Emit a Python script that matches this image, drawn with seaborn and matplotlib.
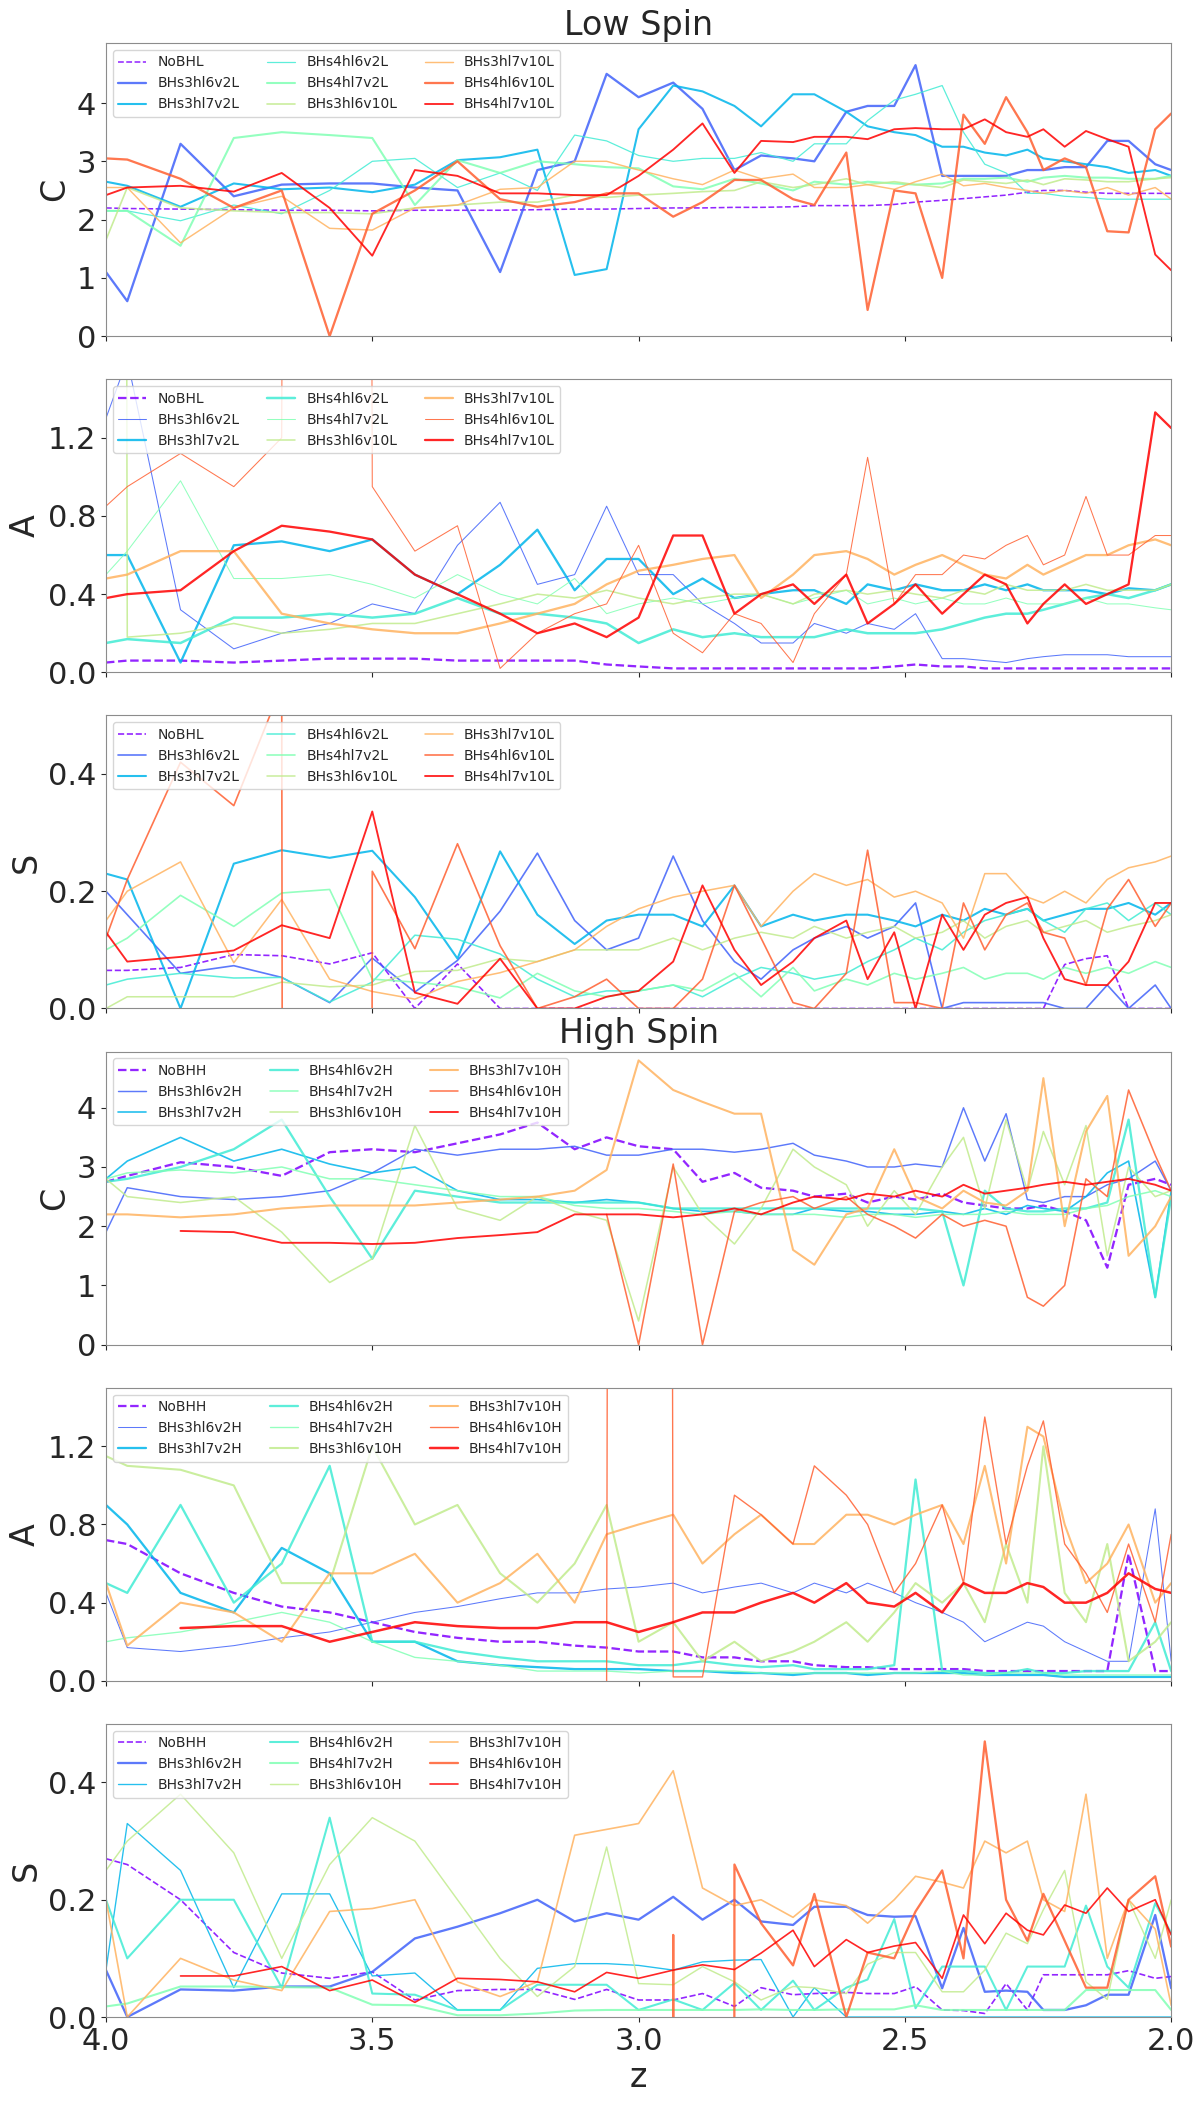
import numpy as np
import pandas as pd
import matplotlib
matplotlib.use("Agg")
import matplotlib.pyplot as plt
import seaborn as sns

nan = np.nan

# redshift grid (x values)
z = [4.00, 3.96, 3.86, 3.76, 3.67, 3.58, 3.50, 3.42, 3.34, 3.26, 3.19, 3.12,
     3.06, 3.00, 2.935, 2.88, 2.82, 2.77, 2.71, 2.67, 2.61, 2.57, 2.52, 2.48,
     2.43, 2.39, 2.35, 2.31, 2.27, 2.24, 2.20, 2.16, 2.12, 2.08, 2.03, 2.00]

names_low = ["NoBHL", "BHs3hl6v2L", "BHs3hl7v2L", "BHs4hl6v2L", "BHs4hl7v2L",
             "BHs3hl6v10L", "BHs3hl7v10L", "BHs4hl6v10L", "BHs4hl7v10L"]
names_high = ["NoBHH", "BHs3hl6v2H", "BHs3hl7v2H", "BHs4hl6v2H", "BHs4hl7v2H",
              "BHs3hl6v10H", "BHs3hl7v10H", "BHs4hl6v10H", "BHs4hl7v10H"]

# ---------------- Low spin : C ----------------
C_low_NoBH = [2.20,2.19,2.18,2.17,2.16,2.16,2.15,2.16,2.16,2.16,2.17,2.18,
              2.18,2.19,2.20,2.20,2.21,2.21,2.22,2.24,2.24,2.24,2.26,2.30,
              2.33,2.36,2.39,2.42,2.47,2.50,2.50,2.47,2.45,2.45,2.45,2.45]
C_low_3hl6v2 = [1.1,0.6,3.3,2.4,2.6,2.62,2.62,2.55,2.5,1.1,2.85,3.0,
                4.5,4.1,4.35,3.9,2.85,3.1,3.05,3.0,3.85,3.95,3.95,4.65,
                2.75,2.75,2.75,2.75,2.85,2.85,2.9,2.9,3.35,3.35,2.95,2.85]
C_low_3hl7v2 = [2.65,2.58,2.22,2.62,2.52,2.55,2.47,2.6,3.02,3.07,3.2,1.05,
                1.15,3.55,4.3,4.2,3.95,3.6,4.15,4.15,3.85,3.6,3.5,3.45,
                3.25,3.25,3.15,3.1,3.2,3.05,3.0,2.95,2.9,2.8,2.85,2.75]
C_low_4hl6v2 = [2.15,2.15,1.98,2.25,2.1,2.5,3.0,3.05,2.55,2.8,2.5,3.45,
                3.35,3.1,3.0,3.05,3.05,3.15,3.0,3.3,3.3,3.7,4.05,4.15,
                4.3,3.5,2.95,2.8,2.45,2.45,2.4,2.38,2.35,2.35,2.35,2.35]
C_low_4hl7v2 = [2.15,2.15,1.55,3.4,3.5,3.45,3.4,2.25,3.02,2.8,3.0,2.95,
                2.9,2.88,2.57,2.52,2.7,2.62,2.5,2.65,2.6,2.65,2.62,2.6,
                2.62,2.7,2.7,2.72,2.65,2.72,2.75,2.72,2.72,2.7,2.7,2.75]
C_low_3hl6v10 = [1.65,2.55,2.2,2.15,2.12,2.12,2.1,2.2,2.25,2.3,2.3,2.42,
                 2.38,2.42,2.45,2.48,2.5,2.65,2.55,2.6,2.7,2.6,2.65,2.6,
                 2.55,2.68,2.65,2.62,2.68,2.6,2.7,2.68,2.65,2.65,2.7,2.72]
C_low_3hl7v10 = [2.55,2.55,1.6,2.2,2.4,1.85,1.82,2.2,2.25,2.52,2.55,3.0,
                 3.0,2.85,2.7,2.6,2.85,2.7,2.78,2.55,2.55,2.6,2.52,2.65,
                 2.78,2.58,2.62,2.55,2.5,2.45,2.5,2.45,2.55,2.42,2.55,2.35]
C_low_4hl6v10 = [3.05,3.03,2.7,2.2,2.5,0.0,2.1,2.5,3.0,2.35,2.22,2.3,
                 2.45,2.45,2.05,2.3,2.68,2.68,2.35,2.25,3.15,0.45,2.5,2.45,
                 1.0,3.8,3.3,4.1,3.5,2.85,3.05,2.9,1.8,1.78,3.55,3.82]
C_low_4hl7v10 = [2.42,2.55,2.58,2.48,2.8,2.2,1.38,2.85,2.75,2.45,2.45,2.42,
                 2.42,2.75,3.2,3.65,2.8,3.35,3.33,3.42,3.42,3.38,3.55,3.57,
                 3.55,3.55,3.72,3.5,3.42,3.55,3.25,3.52,3.38,3.25,1.4,1.13]

# ---------------- Low spin : A ----------------
A_low_NoBH = [0.05,0.06,0.06,0.05,0.06,0.07,0.07,0.07,0.06,0.06,0.06,0.06,
              0.04,0.03,0.02,0.02,0.02,0.02,0.02,0.02,0.02,0.02,0.03,0.04,
              0.03,0.03,0.02,0.02,0.02,0.02,0.02,0.02,0.02,0.02,0.02,0.02]
A_low_3hl6v2 = [1.3,1.6,0.32,0.12,0.2,0.25,0.35,0.3,0.65,0.87,0.45,0.5,
                0.85,0.5,0.5,0.35,0.25,0.15,0.15,0.25,0.2,0.25,0.22,0.3,
                0.07,0.07,0.06,0.05,0.07,0.08,0.09,0.09,0.09,0.08,0.08,0.08]
A_low_3hl7v2 = [0.6,0.6,0.05,0.65,0.67,0.62,0.68,0.5,0.4,0.55,0.73,0.42,
                0.58,0.58,0.4,0.48,0.38,0.4,0.42,0.42,0.35,0.45,0.42,0.45,
                0.42,0.42,0.45,0.42,0.45,0.42,0.42,0.42,0.4,0.43,0.42,0.45]
A_low_4hl6v2 = [0.15,0.17,0.15,0.28,0.28,0.3,0.28,0.3,0.38,0.3,0.3,0.28,
                0.25,0.15,0.22,0.18,0.2,0.18,0.18,0.18,0.22,0.2,0.2,0.2,
                0.22,0.25,0.28,0.3,0.3,0.32,0.35,0.38,0.4,0.38,0.42,0.45]
A_low_4hl7v2 = [0.5,0.62,0.98,0.48,0.48,0.5,0.45,0.38,0.5,0.4,0.35,0.48,
                0.3,0.35,0.38,0.35,0.38,0.4,0.35,0.38,0.42,0.35,0.38,0.35,
                0.38,0.35,0.35,0.38,0.35,0.35,0.35,0.38,0.35,0.35,0.33,0.32]
A_low_3hl6v10 = [60.0,0.18,0.2,0.25,0.2,0.22,0.25,0.25,0.3,0.35,0.4,0.38,
                 0.42,0.38,0.35,0.38,0.4,0.4,0.35,0.4,0.42,0.4,0.42,0.4,
                 0.38,0.42,0.4,0.45,0.42,0.42,0.42,0.45,0.42,0.42,0.42,0.45]
A_low_3hl7v10 = [0.48,0.5,0.62,0.62,0.3,0.25,0.22,0.2,0.2,0.25,0.3,0.35,
                 0.45,0.52,0.55,0.58,0.6,0.38,0.5,0.6,0.62,0.58,0.5,0.55,
                 0.6,0.55,0.5,0.48,0.55,0.5,0.55,0.6,0.6,0.65,0.68,0.65]
A_low_4hl6v10 = [0.85,0.95,1.12,0.95,1.2,80.0,0.95,0.62,0.75,0.02,0.2,0.3,
                 0.35,0.65,0.2,0.1,0.3,0.25,0.05,0.3,0.5,1.1,0.35,0.5,
                 0.5,0.6,0.58,0.65,0.7,0.55,0.6,0.9,0.6,0.6,0.7,0.7]
A_low_4hl7v10 = [0.38,0.4,0.42,0.62,0.75,0.72,0.68,0.5,0.4,0.3,0.2,0.25,
                 0.18,0.28,0.7,0.7,0.3,0.4,0.45,0.35,0.5,0.25,0.35,0.45,
                 0.3,0.4,0.5,0.45,0.25,0.35,0.45,0.35,0.4,0.45,1.33,1.25]

# ---------------- Low spin : S ----------------
S_low_NoBH = [0.065,0.065,0.07,0.092,0.09,0.076,0.095,0.0,0.076,0.0,0.0,0.0,
              0.0,0.0,0.0,0.0,0.0,0.0,0.0,0.0,0.0,0.0,0.0,0.0,
              0.0,0.0,0.0,0.0,0.0,0.0,0.075,0.085,0.09,0.0,0.0,0.0]
S_low_3hl6v2 = [0.2,0.16,0.06,0.073,0.053,0.01,0.086,0.028,0.082,0.166,0.265,0.15,
                0.1,0.12,0.26,0.15,0.08,0.05,0.1,0.12,0.14,0.12,0.14,0.18,
                0.0,0.01,0.01,0.01,0.01,0.01,0.0,0.0,0.04,0.0,0.04,0.0]
S_low_3hl7v2 = [0.23,0.22,0.0,0.247,0.27,0.257,0.269,0.19,0.085,0.268,0.16,0.11,
                0.15,0.16,0.16,0.14,0.21,0.14,0.16,0.15,0.16,0.16,0.15,0.14,
                0.16,0.15,0.17,0.16,0.17,0.15,0.16,0.17,0.17,0.18,0.16,0.18]
S_low_4hl6v2 = [0.04,0.05,0.06,0.052,0.053,0.011,0.045,0.125,0.118,0.093,0.05,0.02,
                0.03,0.03,0.04,0.02,0.05,0.07,0.06,0.05,0.06,0.08,0.1,0.12,
                0.1,0.13,0.15,0.16,0.17,0.15,0.13,0.17,0.18,0.15,0.18,0.16]
S_low_4hl7v2 = [0.1,0.12,0.193,0.14,0.197,0.203,0.05,0.045,0.037,0.018,0.06,0.03,
                0.02,0.03,0.04,0.03,0.06,0.02,0.07,0.03,0.05,0.04,0.06,0.05,
                0.06,0.07,0.05,0.06,0.06,0.05,0.07,0.06,0.07,0.06,0.08,0.07]
S_low_3hl6v10 = [0.0,0.02,0.02,0.02,0.045,0.037,0.04,0.063,0.065,0.085,0.08,0.1,
                 0.1,0.1,0.12,0.1,0.12,0.13,0.12,0.14,0.12,0.13,0.14,0.12,
                 0.13,0.15,0.12,0.14,0.15,0.13,0.14,0.15,0.13,0.14,0.15,0.16]
S_low_3hl7v10 = [0.15,0.2,0.25,0.078,0.186,0.05,0.029,0.016,0.046,0.061,0.08,0.1,
                 0.14,0.17,0.19,0.2,0.21,0.14,0.2,0.23,0.21,0.22,0.19,0.2,
                 0.18,0.12,0.23,0.23,0.19,0.18,0.2,0.18,0.22,0.24,0.25,0.26]
S_low_4hl6v10 = [0.12,0.22,0.42,0.346,0.55,-60.0,0.234,0.102,0.281,0.107,0.0,0.02,
                 0.05,0.0,0.0,0.05,0.21,0.12,0.01,0.0,0.06,0.27,0.01,0.01,
                 0.0,0.18,0.1,0.16,0.18,0.13,0.12,0.04,0.17,0.22,0.14,0.18]
S_low_4hl7v10 = [0.13,0.08,0.088,0.099,0.142,0.12,0.336,0.027,0.008,0.085,0.0,0.0,
                 0.02,0.03,0.08,0.21,0.1,0.04,0.08,0.12,0.15,0.05,0.13,0.0,
                 0.16,0.1,0.16,0.18,0.19,0.12,0.05,0.04,0.04,0.08,0.18,0.18]

# ---------------- High spin : C ----------------
C_high_NoBH = [2.75,2.85,3.08,3.0,2.85,3.25,3.3,3.25,3.4,3.55,3.75,3.3,
               3.5,3.35,3.3,2.75,2.9,2.65,2.6,2.5,2.55,2.4,2.5,2.45,
               2.55,2.4,2.35,2.3,2.3,2.35,2.25,2.1,1.3,2.7,2.8,2.7]
C_high_3hl6v2 = [1.9,2.65,2.5,2.45,2.5,2.6,2.9,3.3,3.2,3.3,3.3,3.35,
                 3.2,3.2,3.3,3.3,3.25,3.3,3.4,3.2,3.1,3.0,3.0,3.05,
                 3.0,4.0,3.1,3.9,2.45,2.4,2.5,2.5,2.7,2.8,3.1,2.6]
C_high_3hl7v2 = [2.8,3.1,3.5,3.1,3.3,3.05,2.9,3.0,2.6,2.45,2.45,2.4,
                 2.45,2.4,2.3,2.25,2.25,2.2,2.2,2.3,2.25,2.25,2.2,2.2,
                 2.25,2.2,2.3,2.2,2.35,2.3,2.25,2.5,2.9,3.1,0.8,2.6]
C_high_4hl6v2 = [2.75,2.8,3.0,3.3,3.8,2.5,1.45,2.6,2.5,2.4,2.4,2.4,
                 2.4,2.4,2.3,2.3,2.3,2.3,2.3,2.3,2.3,2.3,2.3,2.3,
                 2.25,1.0,2.6,2.3,2.25,2.25,2.3,2.3,2.4,3.8,0.8,2.5]
C_high_4hl7v2 = [2.8,2.9,2.95,2.9,3.0,2.8,2.8,2.7,2.6,2.5,2.5,2.35,
                 2.3,2.3,2.25,2.2,2.25,2.2,2.2,2.2,2.15,2.2,2.2,2.15,
                 2.2,2.2,2.2,2.25,2.2,2.2,2.2,2.3,2.35,2.5,2.6,2.5]
C_high_3hl6v10 = [2.8,2.5,2.4,2.5,1.9,1.05,1.45,3.7,2.3,2.1,2.5,2.25,
                  2.1,0.4,3.0,2.2,1.7,2.3,3.3,3.0,2.7,2.0,2.6,2.2,
                  3.0,3.5,2.3,3.8,2.6,3.6,2.7,3.7,1.5,3.0,2.5,2.6]
C_high_3hl7v10 = [2.2,2.2,2.15,2.2,2.3,2.35,2.35,2.35,2.4,2.45,2.5,2.6,
                  2.95,4.8,4.3,4.1,3.9,3.9,1.6,1.35,2.2,2.3,3.3,2.5,
                  2.3,2.6,2.4,2.35,2.6,4.5,2.0,3.6,4.2,1.5,2.0,2.5]
C_high_4hl6v10 = [nan,nan,nan,nan,nan,nan,nan,nan,nan,nan,nan,nan,
                  2.2,0.0,3.05,0.0,2.25,2.4,2.5,2.3,2.5,2.2,2.0,1.8,
                  2.2,2.0,2.1,2.0,0.8,0.65,1.0,2.8,2.5,4.3,3.2,2.6]
C_high_4hl7v10 = [nan,nan,1.92,1.9,1.72,1.72,1.7,1.72,1.8,1.85,1.9,2.2,
                  2.2,2.2,2.15,2.2,2.3,2.2,2.4,2.5,2.45,2.55,2.5,2.6,
                  2.5,2.7,2.55,2.6,2.65,2.7,2.75,2.7,2.75,2.8,2.7,2.6]

# ---------------- High spin : A ----------------
A_high_NoBH = [0.72,0.7,0.55,0.45,0.38,0.35,0.3,0.25,0.22,0.2,0.2,0.18,
               0.17,0.15,0.15,0.12,0.12,0.1,0.1,0.08,0.07,0.07,0.06,0.06,
               0.06,0.06,0.05,0.05,0.05,0.05,0.05,0.05,0.05,0.65,0.05,0.05]
A_high_3hl6v2 = [0.45,0.17,0.15,0.18,0.22,0.25,0.3,0.35,0.38,0.42,0.45,0.45,
                 0.47,0.48,0.5,0.45,0.48,0.5,0.45,0.5,0.45,0.5,0.45,0.4,
                 0.35,0.3,0.2,0.25,0.3,0.28,0.2,0.15,0.1,0.1,0.88,0.1]
A_high_3hl7v2 = [0.9,0.8,0.45,0.35,0.68,0.55,0.2,0.2,0.1,0.08,0.07,0.06,
                 0.06,0.06,0.05,0.05,0.04,0.04,0.03,0.04,0.04,0.03,0.04,0.04,
                 0.04,0.04,0.03,0.03,0.03,0.03,0.02,0.02,0.02,0.02,0.02,0.02]
A_high_4hl6v2 = [0.5,0.45,0.9,0.4,0.6,1.1,0.2,0.2,0.15,0.12,0.1,0.1,
                 0.1,0.08,0.08,0.1,0.08,0.07,0.08,0.06,0.06,0.06,0.08,1.03,
                 0.05,0.05,0.04,0.04,0.06,0.04,0.04,0.05,0.05,0.05,0.3,0.05]
A_high_4hl7v2 = [0.2,0.22,0.25,0.3,0.35,0.3,0.2,0.12,0.1,0.08,0.05,0.05,
                 0.05,0.04,0.05,0.05,0.05,0.04,0.04,0.04,0.04,0.04,0.04,0.04,
                 0.05,0.03,0.03,0.04,0.04,0.04,0.03,0.03,0.03,0.03,0.03,0.03]
A_high_3hl6v10 = [1.15,1.1,1.08,1.0,0.5,0.5,1.2,0.8,0.9,0.55,0.4,0.6,
                  0.9,0.2,0.3,0.1,0.2,0.1,0.15,0.2,0.3,0.2,0.35,0.5,
                  0.4,0.5,0.3,0.7,0.4,1.2,0.45,0.3,0.7,0.1,0.2,0.3]
A_high_3hl7v10 = [0.5,0.18,0.4,0.35,0.2,0.55,0.55,0.65,0.4,0.5,0.65,0.4,
                  0.75,0.8,0.85,0.6,0.75,0.85,0.7,0.7,0.85,0.85,0.8,0.85,
                  0.9,0.7,1.1,0.6,1.3,1.25,0.8,0.5,0.6,0.8,0.4,0.5]
A_high_4hl6v10 = [nan,nan,nan,nan,nan,nan,nan,nan,nan,nan,nan,nan,
                  0.0,80.0,0.02,0.02,0.95,0.85,0.7,1.1,0.95,0.8,0.45,0.6,
                  0.9,0.5,1.35,0.7,1.1,1.33,0.7,0.55,0.35,0.7,0.3,0.75]
A_high_4hl7v10 = [nan,nan,0.27,0.28,0.28,0.2,0.25,0.3,0.28,0.27,0.27,0.3,
                  0.3,0.25,0.3,0.35,0.35,0.4,0.45,0.4,0.5,0.4,0.38,0.45,
                  0.35,0.5,0.45,0.45,0.5,0.48,0.4,0.4,0.45,0.55,0.47,0.45]

# ---------------- High spin : S ----------------
S_high_NoBH = [0.27,0.26,0.2,0.11,0.075,0.066,0.077,0.029,0.045,0.047,0.047,0.03,
               0.047,0.029,0.029,0.04,0.018,0.05,0.038,0.04,0.042,0.04,0.04,0.052,
               0.012,0.011,0.006,0.057,0.012,0.072,0.072,0.072,0.072,0.079,0.066,0.069]
S_high_3hl6v2 = [0.08,0.0,0.047,0.045,0.052,0.052,0.077,0.134,0.154,0.177,0.2,0.163,
                 0.177,0.166,0.205,0.166,0.2,0.163,0.157,0.188,0.188,0.174,0.171,0.172,
                 0.049,0.152,0.043,0.045,0.043,0.012,0.012,0.02,0.038,0.038,0.174,0.049]
S_high_3hl7v2 = [0.08,0.33,0.25,0.05,0.21,0.21,0.07,0.075,0.012,0.012,0.083,0.091,
                 0.091,0.088,0.08,0.094,0.097,0.098,0.0,0.05,0.0,0.0,0.0,0.0,
                 0.0,0.0,0.0,0.0,0.0,0.0,0.0,0.0,0.0,0.0,0.0,0.0]
S_high_4hl6v2 = [0.2,0.1,0.2,0.2,0.05,0.34,0.04,0.038,0.012,0.012,0.055,0.055,
                 0.055,0.012,0.03,0.012,0.058,0.012,0.062,0.012,0.05,0.064,0.167,0.015,
                 0.086,0.086,0.086,0.012,0.086,0.086,0.086,0.19,0.086,0.05,0.194,0.143]
S_high_4hl7v2 = [0.018,0.023,0.052,0.052,0.051,0.05,0.021,0.02,0.003,0.003,0.006,0.011,
                 0.012,0.012,0.012,0.012,0.012,0.013,0.012,0.012,0.013,0.013,0.013,0.02,
                 0.012,0.012,0.012,0.012,0.012,0.012,0.012,0.046,0.046,0.046,0.046,0.012]
S_high_3hl6v10 = [0.25,0.3,0.38,0.28,0.1,0.26,0.34,0.3,0.2,0.1,0.035,0.086,
                  0.29,0.057,0.055,0.086,0.06,0.029,0.052,0.05,0.04,0.09,0.11,0.11,
                  0.043,0.043,0.08,0.143,0.125,0.183,0.25,0.06,0.03,0.2,0.1,0.2]
S_high_3hl7v10 = [0.2,0.0,0.1,0.063,0.045,0.18,0.185,0.2,0.06,0.035,0.06,0.31,
                  0.32,0.33,0.42,0.22,0.19,0.2,0.17,0.2,0.19,0.16,0.2,0.24,
                  0.23,0.22,0.3,0.28,0.3,0.2,0.18,0.38,0.1,0.2,0.15,0.02]
S_high_4hl6v10 = [nan,nan,nan,nan,nan,nan,nan,nan,nan,nan,nan,nan,
                  nan,-80.0,0.14,-80.0,0.26,0.16,0.088,0.21,0.0,0.11,0.1,0.18,
                  0.25,0.1,0.47,0.2,0.13,0.21,0.13,0.05,0.05,0.2,0.24,0.12]
S_high_4hl7v10 = [nan,nan,0.07,0.07,0.086,0.045,0.063,0.025,0.066,0.064,0.06,0.043,
                  0.076,0.066,0.08,0.089,0.081,0.109,0.148,0.086,0.132,0.11,0.121,0.127,
                  0.066,0.174,0.125,0.177,0.148,0.14,0.191,0.177,0.22,0.18,0.2,0.14]

# ---------------- styling (not data) ----------------
colors = [plt.cm.rainbow(v) for v in np.linspace(0, 1, 9)]
LW_SCALE = 0.75
panels = [
    ("C", names_low, [C_low_NoBH, C_low_3hl6v2, C_low_3hl7v2, C_low_4hl6v2, C_low_4hl7v2,
                      C_low_3hl6v10, C_low_3hl7v10, C_low_4hl6v10, C_low_4hl7v10],
     [1.5, 2.2, 2.0, 1.2, 2.0, 1.6, 1.4, 2.2, 1.8], (0, 5.03), [0, 1, 2, 3, 4], "Low Spin"),
    ("A", names_low, [A_low_NoBH, A_low_3hl6v2, A_low_3hl7v2, A_low_4hl6v2, A_low_4hl7v2,
                      A_low_3hl6v10, A_low_3hl7v10, A_low_4hl6v10, A_low_4hl7v10],
     [2.2, 1.0, 2.2, 2.4, 1.0, 1.5, 2.2, 1.0, 2.2], (0, 1.5), [0.0, 0.4, 0.8, 1.2], None),
    ("S", names_low, [S_low_NoBH, S_low_3hl6v2, S_low_3hl7v2, S_low_4hl6v2, S_low_4hl7v2,
                      S_low_3hl6v10, S_low_3hl7v10, S_low_4hl6v10, S_low_4hl7v10],
     [1.6, 1.6, 2.0, 1.5, 1.6, 1.5, 1.5, 1.6, 1.8], (0, 0.5), [0.0, 0.2, 0.4], None),
    ("C", names_high, [C_high_NoBH, C_high_3hl6v2, C_high_3hl7v2, C_high_4hl6v2, C_high_4hl7v2,
                       C_high_3hl6v10, C_high_3hl7v10, C_high_4hl6v10, C_high_4hl7v10],
     [2.2, 1.4, 1.6, 2.2, 1.5, 1.5, 2.0, 1.5, 1.8], (0, 4.95), [0, 1, 2, 3, 4], "High Spin"),
    ("A", names_high, [A_high_NoBH, A_high_3hl6v2, A_high_3hl7v2, A_high_4hl6v2, A_high_4hl7v2,
                       A_high_3hl6v10, A_high_3hl7v10, A_high_4hl6v10, A_high_4hl7v10],
     [2.2, 1.0, 2.2, 2.2, 1.3, 2.0, 2.0, 1.3, 2.4], (0, 1.5), [0.0, 0.4, 0.8, 1.2], None),
    ("S", names_high, [S_high_NoBH, S_high_3hl6v2, S_high_3hl7v2, S_high_4hl6v2, S_high_4hl7v2,
                       S_high_3hl6v10, S_high_3hl7v10, S_high_4hl6v10, S_high_4hl7v10],
     [1.6, 2.2, 1.3, 2.0, 2.0, 1.4, 1.6, 2.2, 1.6], (0, 0.5), [0.0, 0.2, 0.4], None),
]

for p in panels:
    for arr in p[2]:
        if len(arr) != len(z):
            raise ValueError(f"length mismatch {len(arr)}")

sns.set_style("ticks", {"axes.edgecolor": "0.55", "xtick.color": "0.15",
                        "ytick.color": "0.15", "xtick.direction": "out",
                        "ytick.direction": "out"})
plt.rcParams["font.family"] = ["DejaVu Sans"]

fig, axes = plt.subplots(6, 1, figsize=(12, 21.07), dpi=100, sharex=True)
fig.subplots_adjust(left=0.0883, right=0.976, top=1 - 43 / 2107,
                    bottom=1 - 2017 / 2107, hspace=43 / 293)

for ax, (ylab, names, series, lws, ylim, yticks, title) in zip(axes, panels):
    for i, (name, vals) in enumerate(zip(names, series)):
        df = pd.DataFrame({"z": z, "v": vals})
        sns.lineplot(data=df, x="z", y="v", ax=ax, color=colors[i],
                     linewidth=lws[i] * LW_SCALE, linestyle="--" if i == 0 else "-",
                     alpha=0.85, label=name, estimator=None, sort=False)
    ax.set_xlim(4.0, 2.0)
    ax.set_ylim(*ylim)
    ax.set_yticks(yticks)
    ax.set_ylabel(ylab, fontsize=24)
    ax.set_xlabel("")
    ax.tick_params(axis="both", labelsize=22)
    ax.set_xticks([4.0, 3.5, 3.0, 2.5, 2.0])
    if title:
        ax.set_title(title, fontsize=24)
    ax.legend(loc="upper left", ncol=3, fontsize=10, framealpha=0.8)

axes[-1].set_xlabel("z", fontsize=24)
axes[-1].xaxis.set_major_formatter(matplotlib.ticker.FormatStrFormatter("%.1f"))
for ax in axes[:-1]:
    ax.tick_params(axis="x", labelbottom=False)

fig.savefig("out.png", dpi=100)
